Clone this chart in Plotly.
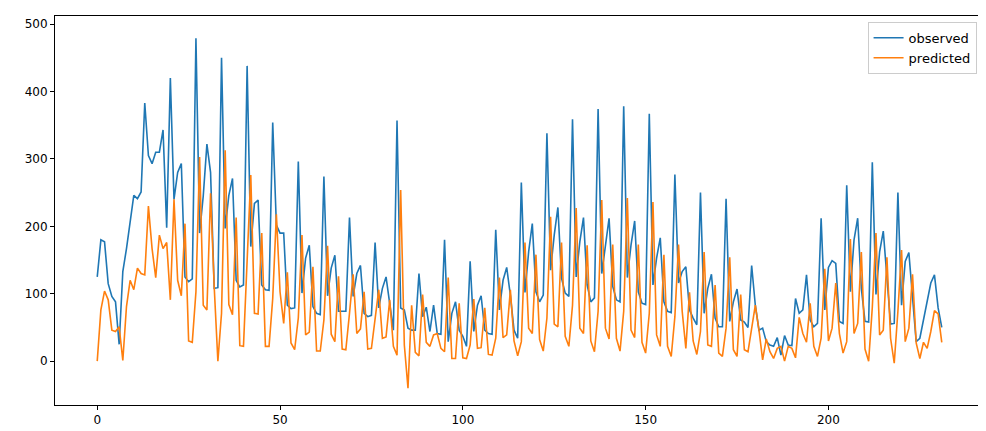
import plotly.graph_objects as go

observed = [125,180,177,115,96,88,25,133,167,207,246,241,251,383,305,293,310,310,343,198,
            420,240,280,293,125,118,122,479,190,245,322,280,108,109,450,197,246,271,120,110,
            113,438,170,234,239,113,106,105,354,202,190,190,83,78,79,296,101,153,172,81,
            71,69,274,97,138,157,74,74,74,213,96,130,142,71,66,68,176,79,108,125,
            83,46,357,79,76,49,46,46,130,66,80,44,83,41,40,180,29,71,88,46,
            37,22,148,44,83,97,46,41,40,195,76,120,139,98,46,34,265,102,162,204,
            103,88,98,338,135,187,228,123,101,96,359,125,177,213,113,88,94,374,130,172,
            212,111,91,88,378,124,172,208,103,86,84,367,113,153,183,88,74,72,277,116,
            133,140,76,64,54,250,71,108,129,64,51,51,241,59,88,107,61,58,50,142,
            83,46,49,29,24,22,35,9,38,24,23,93,71,76,128,61,51,56,212,76,
            139,149,145,59,56,261,103,180,212,108,59,58,295,99,162,193,123,55,56,250,
            83,148,161,88,29,34,61,93,116,128,79,50]

predicted = [0,76,104,91,46,44,51,1,81,120,106,138,130,128,230,167,124,187,167,176,
             91,240,120,97,204,30,28,103,303,83,76,249,110,0,71,313,84,69,213,23,
             22,140,276,71,70,190,22,22,93,218,103,56,132,27,17,64,187,39,43,140,
             15,15,61,171,40,29,126,18,17,71,129,41,48,103,18,19,64,106,34,36,
             91,22,9,254,24,-40,83,13,8,99,28,22,39,41,19,14,124,4,4,86,
             5,4,24,92,19,20,79,10,9,34,124,35,39,106,30,8,29,176,49,41,
             158,32,15,64,214,55,51,176,37,22,83,227,49,41,172,30,14,74,239,49,
             33,173,34,15,74,242,46,35,173,28,12,71,236,39,22,158,22,7,66,173,
             74,19,102,30,10,44,162,24,22,113,12,7,49,154,17,7,99,17,14,51,
             83,46,2,33,14,4,19,22,0,22,19,5,65,41,28,86,22,7,34,137,
             30,49,116,41,12,29,181,41,56,162,18,0,80,190,39,46,154,34,-3,74,
             165,29,49,129,27,4,28,19,44,75,70,28]

x = list(range(len(observed)))

fig = go.Figure()
fig.add_trace(go.Scatter(x=x, y=observed, mode="lines", name="observed",
                         line=dict(color="#1f77b4", width=1.6)))
fig.add_trace(go.Scatter(x=x, y=predicted, mode="lines", name="predicted",
                         line=dict(color="#ff7f0e", width=1.6)))

axis_common = dict(showline=True, linecolor="black", linewidth=1, mirror=True,
                   ticks="outside", ticklen=4, tickcolor="black", showgrid=False,
                   zeroline=False, automargin=False,
                   tickfont=dict(family="DejaVu Sans", size=12, color="black"))
fig.update_xaxes(range=[-11.55, 242.55], tickvals=[0, 50, 100, 150, 200], **axis_common)
fig.update_yaxes(range=[-65, 512], tickvals=[0, 100, 200, 300, 400, 500], **axis_common)

fig.update_layout(
    width=986, height=431,
    margin=dict(l=47, r=10, t=8, b=34, autoexpand=False),
    plot_bgcolor="white", paper_bgcolor="white",
    font=dict(family="DejaVu Sans", size=12, color="black"),
    legend=dict(x=0.992, y=0.985, xanchor="right", yanchor="top",
                bgcolor="rgba(255,255,255,0.8)", bordercolor="#cccccc", borderwidth=1,
                font=dict(size=13)),
)
fig.write_html("out.html")
